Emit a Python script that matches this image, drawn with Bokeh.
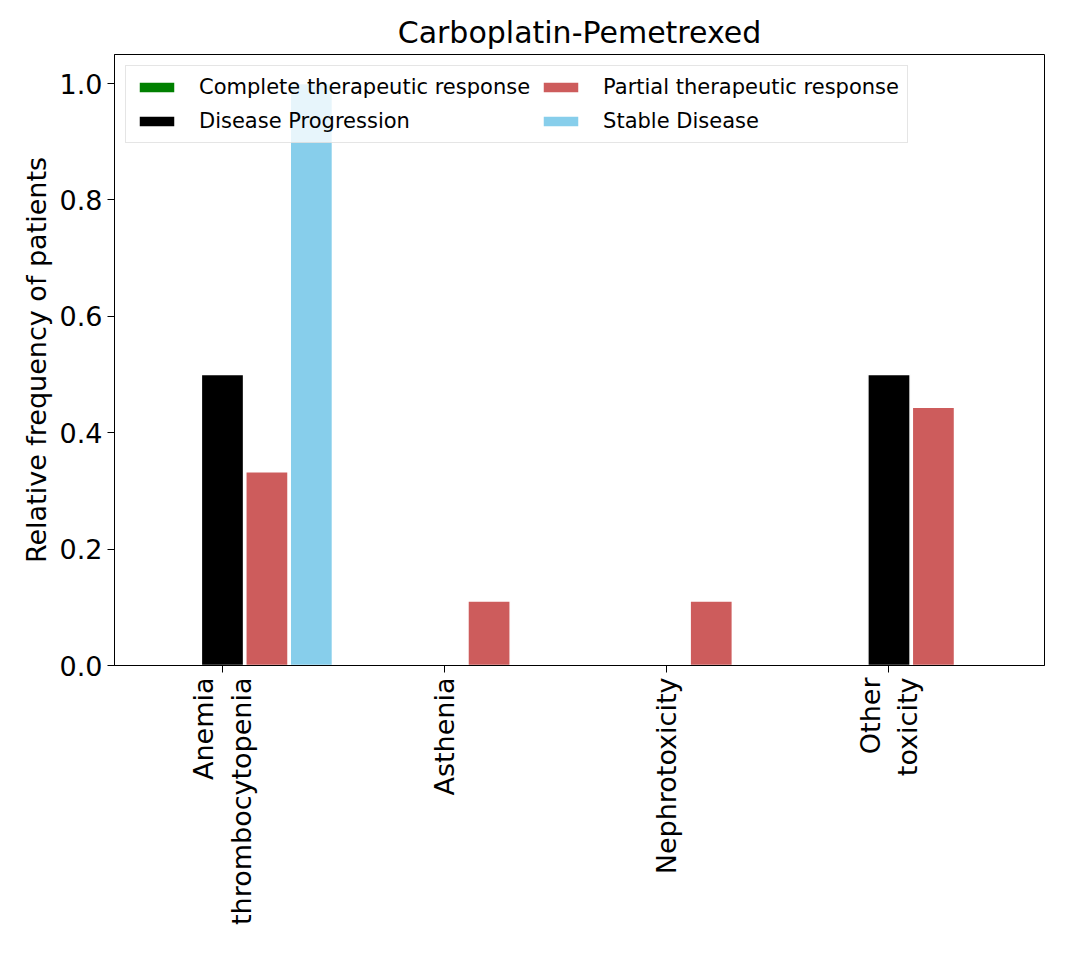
import math

from bokeh.embed import file_html
from bokeh.models import ColumnDataSource, FixedTicker, Legend, LegendItem, Range1d
from bokeh.plotting import figure
from bokeh.resources import INLINE

categories = ["Anemia\nthrombocytopenia", "Asthenia", "Nephrotoxicity", "Other\ntoxicity"]
series = ["Complete therapeutic response", "Disease Progression",
          "Partial therapeutic response", "Stable Disease"]
colors = ["green", "black", "indianred", "skyblue"]
values = {
    "Complete therapeutic response": [0.0, 0.0, 0.0, 0.0],
    "Disease Progression": [0.5, 0.0, 0.0, 0.5],
    "Partial therapeutic response": [0.333, 0.111, 0.111, 0.444],
    "Stable Disease": [1.0, 0.0, 0.0, 0.0],
}
offsets = [-0.2, 0.0, 0.2, 0.4]

p = figure(width=1056, height=945, output_backend="svg", toolbar_location=None,
           title="Carboplatin-Pemetrexed",
           x_range=Range1d(-0.486, 3.7), y_range=Range1d(0, 1.05),
           min_border_left=114, min_border_right=12, min_border_top=54,
           min_border_bottom=280)
p.title.align = "center"
p.title.text_font = "DejaVu Sans"
p.title.text_font_size = "30px"
p.title.text_font_style = "normal"
p.title.text_color = "black"
p.grid.visible = False
p.outline_line_color = "black"

renderers = []
for name, color, off in zip(series, colors, offsets):
    src = ColumnDataSource(dict(x=[i + off for i in range(len(categories))],
                                top=values[name]))
    r = p.vbar(x="x", top="top", width=0.19, source=src, fill_color=color,
               line_color="white", line_width=1.5)
    renderers.append((name, r))

legend = Legend(items=[LegendItem(label=n, renderers=[r]) for n, r in renderers],
                location="top_left", ncols=2, label_text_font="DejaVu Sans",
                label_text_font_size="21px", label_text_color="black",
                border_line_color="#cccccc", border_line_width=1.5,
                background_fill_alpha=0.8, glyph_width=45, glyph_height=14,
                label_height=26, spacing=8, padding=8, label_standoff=20, margin=11)
p.add_layout(legend)

p.xaxis.ticker = FixedTicker(ticks=list(range(len(categories))))
p.xaxis.major_label_overrides = {i: c for i, c in enumerate(categories)}
p.xaxis.major_label_orientation = math.pi / 2
p.yaxis.ticker = FixedTicker(ticks=[0, 0.2, 0.4, 0.6, 0.8, 1.0])
p.yaxis.major_label_overrides = {0: "0.0", 1: "1.0"}
p.yaxis.axis_label = "Relative frequency of patients"
for ax in (p.xaxis, p.yaxis):
    ax.major_label_text_font = "DejaVu Sans"
    ax.major_label_text_font_size = "27px"
    ax.major_label_text_color = "black"
    ax.axis_label_text_font = "DejaVu Sans"
    ax.axis_label_text_font_size = "27px"
    ax.axis_label_text_font_style = "normal"
    ax.axis_label_text_color = "black"
    ax.minor_tick_line_color = None
    ax.major_tick_out = 7
    ax.major_tick_in = 0
    ax.axis_line_color = "black"

open("out.html", "w").write(file_html(p, INLINE))
